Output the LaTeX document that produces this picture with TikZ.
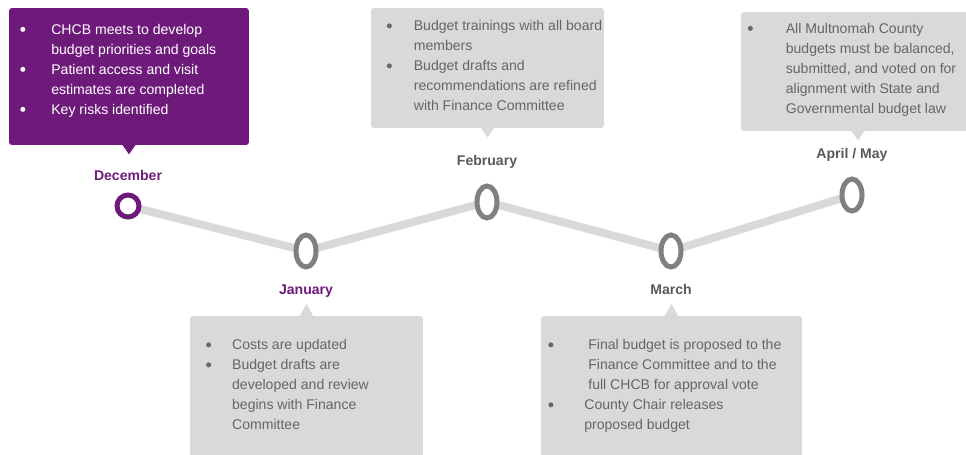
\documentclass[tikz,border=0pt]{standalone}
\usepackage{fontspec}
\setmainfont{Liberation Sans}
\usetikzlibrary{shapes.geometric,calc,backgrounds}

\definecolor{pourpre}{RGB}{110,26,122}
\definecolor{grisfond}{RGB}{217,217,217}
\definecolor{grisjalon}{RGB}{128,128,128}
\definecolor{gristexte}{RGB}{102,102,102}
\definecolor{grismois}{RGB}{89,89,89}

% puce ronde un peu plus grosse que \textbullet
\newcommand{\puce}{\tikz[baseline=-0.1cm]\fill (0,0) circle (0.05cm);}

\tikzset{
    boite/.style={rounded corners=0.06cm, inner sep=0pt},
    texte/.style={anchor=north west, inner sep=0pt, font=\fontsize{8}{11.38}\selectfont},
    mois/.style={anchor=base, inner sep=0pt, font=\fontsize{8}{10}\selectfont\bfseries},
    jalon/.style={draw, fill=white, line width=0.1cm, inner sep=0pt},
    ligne/.style={grisfond, line width=0.16cm}
}

\begin{document}
\begin{tikzpicture}[x=0.02cm, y=-0.02cm]
\useasboundingbox (0,0) rectangle (966,454);
\clip (0,0) rectangle (966,454);

% 1. Les boites de texte (decembre en violet, les autres en gris)
\node[boite, fill=pourpre, minimum width=4.8cm, minimum height=2.74cm] (decbox) at (129,76.5) {};
\node[boite, fill=grisfond, minimum width=4.66cm, minimum height=2.4cm] (febbox) at (487.5,68) {};
\node[boite, fill=grisfond, minimum width=4.68cm, minimum height=2.38cm] (aprbox) at (858,71.5) {};
\node[boite, fill=grisfond, minimum width=4.66cm, minimum height=2.88cm] (janbox) at (306.5,388) {};
\node[boite, fill=grisfond, minimum width=5.22cm, minimum height=2.88cm] (marbox) at (671.5,388) {};

% 2. Les petites pointes sous / sur les boites
\foreach \b/\c in {decbox/pourpre, febbox/grisfond, aprbox/grisfond} {
    \fill[\c] ($(\b.south)+(-7,-1)$) -- ($(\b.south)+(0,9)$) -- ($(\b.south)+(7,-1)$) -- cycle;
}
\foreach \b in {janbox, marbox} {
    \fill[grisfond] ($(\b.north)+(-7,1)$) -- ($(\b.north)+(0,-12)$) -- ($(\b.north)+(7,1)$) -- cycle;
}

% 3. Le contenu des boites
\node[texte, text=white] (dectxt) at (20,20) {\begin{tabular}{@{}p{0.62cm}@{}l@{}}
\puce & CHCB meets to develop\\
 & budget priorities and goals\\
\puce & Patient access and visit\\
 & estimates are completed\\
\puce & Key risks identified
\end{tabular}};

\node[texte, text=gristexte] (febtxt) at (386.5,16.5) {\begin{tabular}{@{}p{0.54cm}@{}l@{}}
\puce & Budget trainings with all board\\
 & members\\
\puce & Budget drafts and\\
 & recommendations are refined\\
 & with Finance Committee
\end{tabular}};

\node[texte, text=gristexte] (aprtxt) at (747.5,19) {\begin{tabular}{@{}p{0.76cm}@{}l@{}}
\puce & All Multnomah County\\
 & budgets must be balanced,\\
 & submitted, and voted on for\\
 & alignment with State and\\
 & Governmental budget law
\end{tabular}};

\node[texte, text=gristexte] (jantxt) at (205.8,335.5) {\begin{tabular}{@{}p{0.52cm}@{}l@{}}
\puce & Costs are updated\\
\puce & Budget drafts are\\
 & developed and review\\
 & begins with Finance\\
 & Committee
\end{tabular}};

\node[texte, text=gristexte] (martxt) at (548,335.5) {\begin{tabular}{@{}p{0.72cm}@{}l@{}}
\puce & \hspace{0.08cm}Final budget is proposed to the\\
 & \hspace{0.08cm}Finance Committee and to the\\
 & \hspace{0.08cm}full CHCB for approval vote\\
\puce & County Chair releases\\
 & proposed budget
\end{tabular}};

% 4. Les jalons sur la ligne du temps
\node[jalon, circle, draw=pourpre, minimum size=0.44cm] (dec) at (128,206) {};
\node[jalon, ellipse, draw=grisjalon, minimum width=0.4cm, minimum height=0.64cm] (jan) at (306,251) {};
\node[jalon, ellipse, draw=grisjalon, minimum width=0.4cm, minimum height=0.64cm] (feb) at (487,202) {};
\node[jalon, ellipse, draw=grisjalon, minimum width=0.4cm, minimum height=0.64cm] (mar) at (671,251) {};
\node[jalon, ellipse, draw=grisjalon, minimum width=0.4cm, minimum height=0.64cm] (apr) at (852,195) {};

% 5. La ligne brisee qui relie les jalons (en dessous)
\begin{scope}[on background layer]
\draw[ligne] (dec.center) -- (jan.center) -- (feb.center) -- (mar.center) -- (apr.center);
\end{scope}

% 6. Les noms des mois
\node[mois, text=pourpre] (ldec) at (128,180) {December};
\node[mois, text=pourpre] (ljan) at (306,294) {January};
\node[mois, text=grismois] (lfeb) at (487,165) {February};
\node[mois, text=grismois] (lmar) at (671,294) {March};
\node[mois, text=grismois] (lapr) at (852,158) {April / May};
\end{tikzpicture}
\end{document}
